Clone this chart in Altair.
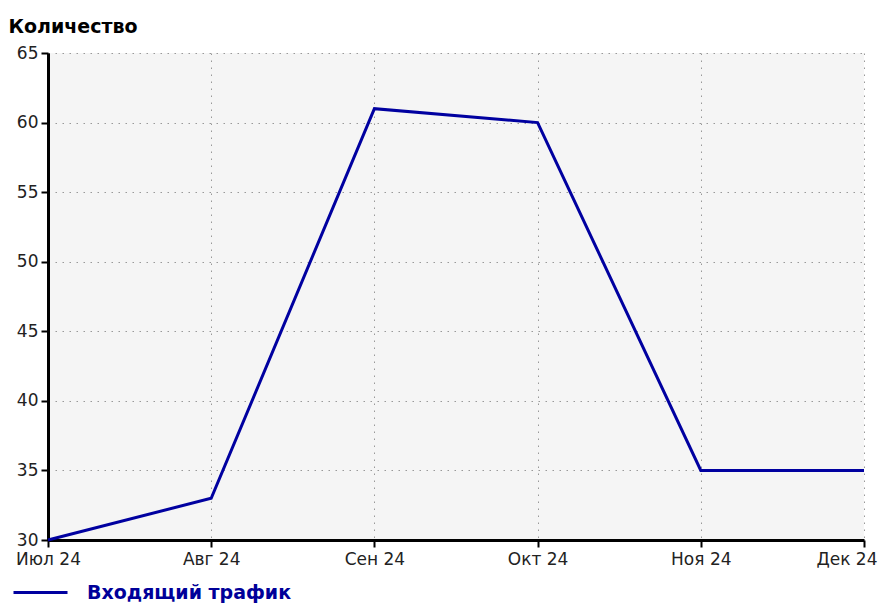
import altair as alt
import pandas as pd

months = ["Июл 24", "Авг 24", "Сен 24", "Окт 24", "Ноя 24", "Дек 24"]
values = [30, 33, 61, 60, 35, 35]
series_name = "Входящий трафик"
y_ticks = [30, 35, 40, 45, 50, 55, 60, 65]

df = pd.DataFrame({"month": months, "value": values, "series": [series_name] * len(months)})

line_color = "#0000A0"
last_test = "datum.label == '%s'" % months[-1]

chart = alt.Chart(df).mark_line(strokeWidth=3, color=line_color).encode(
    x=alt.X("month:N", sort=months, scale=alt.Scale(type="point", padding=0),
            axis=alt.Axis(title=None, labelAngle=0, grid=True, labelPadding=4,
                          labelAlign=alt.condition(last_test, alt.value("right"), alt.value("center")),
                          labelOffset=alt.condition(last_test, alt.value(13), alt.value(0)))),
    y=alt.Y("value:Q", scale=alt.Scale(domain=[30, 65], nice=False, zero=False),
            axis=alt.Axis(values=y_ticks, title="Количество", titleAngle=0, titleAlign="left",
                          titleBaseline="alphabetic", titleX=-40, titleY=-21,
                          titleFont="DejaVu Sans", titleFontSize=19, titleFontWeight="bold",
                          titleColor="#000000", labelPadding=3)),
    color=alt.Color("series:N", scale=alt.Scale(range=[line_color]),
                    legend=alt.Legend(title=None, orient="none", legendX=-36, legendY=511,
                                      symbolType="stroke", symbolSize=2916, symbolStrokeWidth=3,
                                      labelFont="DejaVu Sans", labelFontSize=19, labelFontWeight="bold",
                                      labelColor="#000099", labelOffset=18, labelLimit=0, padding=0)),
).properties(
    width=816, height=487,
    autosize=alt.AutoSizeParams(type="none"),
    padding={"left": 40, "top": 45, "right": 14, "bottom": 64},
).configure_view(
    fill="#f5f5f5", stroke=None
).configure_axis(
    domainColor="#000000", domainWidth=3, tickColor="#000000", tickSize=7, tickWidth=2,
    gridColor="#999999", gridDash=[1.5, 5.5], gridWidth=1,
    labelFont="DejaVu Sans", labelFontSize=17, labelColor="#222222",
)

chart.save("out.html", embed_options={"renderer": "svg", "actions": False})
